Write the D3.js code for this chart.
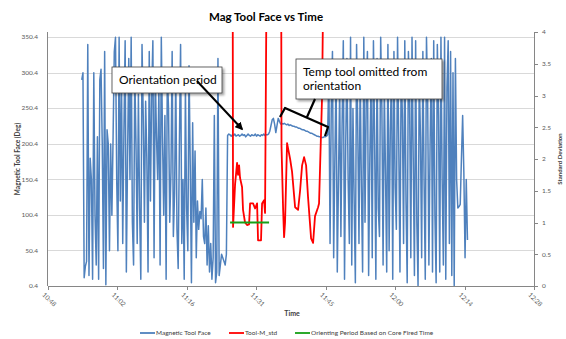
<!DOCTYPE html>
<html>
<head>
<meta charset="utf-8">
<script src="https://cdn.jsdelivr.net/npm/d3@7/dist/d3.min.js"></script>
<style>
  body { margin: 0; background: #fff; }
  svg { display: block; font-family: Lato, "Liberation Sans", sans-serif; }
  .grid line { stroke: #d9d9d9; stroke-width: 1; }
  .tick-label { font-size: 6.5px; fill: #595959; }
  .axis-title { font-size: 6.5px; font-weight: bold; fill: #404040; }
  .legend text { font-size: 6.5px; fill: #404040; }
  .note { font-size: 12px; fill: #000; }
</style>
</head>
<body>
<div id="chart"></div>
<script>
// x axis ticks (every 0.01 day)
const xTickTimes = ["10:48:00", "11:02:24", "11:16:48", "11:31:12", "11:45:36", "12:00:00", "12:14:24", "12:28:48"];
const leftTicks = [0.4, 50.4, 100.4, 150.4, 200.4, 250.4, 300.4, 350.4];
const rightTicks = [0, 0.5, 1, 1.5, 2, 2.5, 3, 3.5, 4];

// Magnetic Tool Face, one reading every 15 s from 10:55:00
const magStart = "10:55:00";
const magStepSeconds = 15;
const magToolFace = [
  // spinning before orientation
  290, 300, 12, 28, 35, 340, 15, 180, 150, 10,
  300, 100, 30, 210, 10, 290, 305, 200, 25, 330,
  2, 220, 200, 50, 200, 100, 210, 330, 350, 150,
  50, 350, 120, 290, 60, 220, 345, 20, 180, 320,
  150, 350, 90, 30, 300, 200, 60, 270, 110, 10,
  340, 240, 90, 260, 180, 20, 330, 120, 270, 345,
  40, 300, 210, 150, 280, 30, 350, 210, 100, 240,
  10, 300, 250, 90, 160, 330, 70, 130, 300, 80,
  25, 200, 340, 60, 150, 10, 280, 110, 50, 310,
  170, 5, 230, 90, 190, 40, 120, 80, 105, 95,
  150, 70, 60, 110, 30, 85, 20, 60, 10, 40,
  240, 5, 20, 320, 15, 30, 45, 40, 35, 30,
  45,
  // orientation
  212, 214, 213, 211, 213, 212, 214, 211, 212, 213,
  211, 212, 214, 212, 213, 210, 212, 214, 212, 211,
  213, 212, 212, 214, 211, 213, 212, 211, 213, 212,
  214, 212, 213, 213,
  214, 218, 226, 234, 236, 228, 216, 226, 236, 232, 228,
  229, 228, 229, 228, 227, 228, 226, 227, 226, 225,
  225, 224, 224, 223, 222, 222, 221, 220, 220, 219,
  218, 218, 217, 216, 215, 215, 214, 213, 212, 211,
  211, 210, 210, 209, 209, 210, 210, 211, 213,
  // spinning after orientation
  300, 60, 250, 330, 40, 180, 300, 20, 150, 280,
  70, 230, 345, 10, 200, 320, 150, 60, 350, 30,
  250, 120, 5, 340, 220, 60, 300, 140, 20, 350,
  90, 260, 330, 15, 180, 290, 40, 345, 200, 10,
  320, 110, 70, 350, 250, 30, 280, 160, 20, 340,
  50, 220, 300, 10, 330, 140, 80, 350, 200, 20,
  310, 240, 60, 345, 120, 5, 330, 260, 40, 350,
  180, 15, 345, 90, 1, 300, 210, 40, 330, 150,
  10, 350, 260, 30, 200, 320, 20, 345, 100, 5,
  340, 240, 20, 350, 150, 30, 350, 10, 280, 345,
  60, 330, 15, 300, 1, 320, 150, 110, 112, 115,
  180, 240, 160, 40, 150, 65
];

// Tool-M_std (right axis)
const toolStdTimes = [
  "11:26:17", "11:26:23", "11:26:48", "11:27:13", "11:27:25", "11:27:38", "11:27:50", "11:28:15",
  "11:28:27", "11:28:52", "11:29:17", "11:29:42", "11:29:55", "11:30:32", "11:30:57", "11:31:22",
  "11:31:34", "11:32:11", "11:32:24", "11:32:49", "11:33:01", "11:33:26",
  "11:36:20", "11:36:26", "11:36:46", "11:36:58", "11:37:10", "11:37:35", "11:38:13", "11:38:37",
  "11:39:15", "11:39:52", "11:40:17", "11:40:42", "11:41:07", "11:41:32", "11:41:56", "11:42:34",
  "11:42:59", "11:43:23", "11:44:01", "11:44:13", "11:44:51", "11:45:16"
];
const toolStdValues = [
  6, 0.93, 1.6, 1.94, 1.75, 1.9, 1.7, 1.56,
  1.2, 1.0, 0.96, 0.97, 1.3, 1.3, 1.22, 1.3,
  0.72, 0.72, 1.3, 1.35, 1.15, 6,
  6, 2.19, 1.2, 0.77, 1.0, 2.25, 2.0, 1.8,
  1.24, 1.2, 1.5, 1.9, 2.03, 1.9, 1.4, 0.75,
  0.68, 1.1, 1.24, 1.3, 3.0, 6
];

// Orienting period based on core fired time (right axis)
const orientTimes = ["11:25:46", "11:33:51"];
const orientValues = [1, 1];

const width = 566, height = 339;
const plot = { left: 48, right: 534, top: 32, bottom: 286 };

const parseTime = d3.timeParse("%H:%M:%S");

const x = d3.scaleTime()
  .domain([parseTime("10:48:00"), parseTime("12:28:48")])
  .range([plot.left, plot.right]);
const yLeft = d3.scaleLinear().domain([0.4, 357.4]).range([plot.bottom, plot.top]);
const yRight = d3.scaleLinear().domain([0, 4]).range([plot.bottom, plot.top]);

const magData = magToolFace.map((v, i) => ({
  t: d3.timeSecond.offset(parseTime(magStart), i * magStepSeconds), v: v
}));
const stdData = toolStdTimes.map((t, i) => ({ t: parseTime(t), v: toolStdValues[i] }));
const orientData = orientTimes.map((t, i) => ({ t: parseTime(t), v: orientValues[i] }));

const svg = d3.select("#chart").append("svg")
  .attr("width", width)
  .attr("height", height);

const defs = svg.append("defs");
defs.append("clipPath").attr("id", "plot-clip")
  .append("rect")
  .attr("x", plot.left).attr("y", plot.top)
  .attr("width", plot.right - plot.left).attr("height", plot.bottom - plot.top);
defs.append("marker")
  .attr("id", "arrow")
  .attr("viewBox", "0 0 10 10")
  .attr("refX", 8).attr("refY", 5)
  .attr("markerWidth", 4).attr("markerHeight", 4)
  .attr("orient", "auto")
  .append("path").attr("d", "M0,0 L10,5 L0,10 z").attr("fill", "#000");
const shadow = defs.append("filter").attr("id", "shadow")
  .attr("x", "-10%").attr("y", "-20%").attr("width", "130%").attr("height", "160%");
shadow.append("feDropShadow")
  .attr("dx", 2).attr("dy", 2).attr("stdDeviation", 1.2)
  .attr("flood-color", "#000").attr("flood-opacity", 0.35);

// title
svg.append("text")
  .attr("x", 266).attr("y", 21)
  .attr("text-anchor", "middle")
  .style("font-size", "11.5px").style("font-weight", "bold").style("fill", "#000")
  .text("Mag Tool Face vs Time");

// gridlines
svg.append("g").attr("class", "grid")
  .selectAll("line").data(leftTicks).enter().append("line")
  .attr("x1", plot.left).attr("x2", plot.right)
  .attr("y1", d => Math.round(yLeft(d)) + 0.5).attr("y2", d => Math.round(yLeft(d)) + 0.5);

// left axis labels
svg.append("g").selectAll("text").data(leftTicks).enter().append("text")
  .attr("class", "tick-label")
  .attr("x", 38).attr("y", d => yLeft(d) + 2.3)
  .attr("text-anchor", "end")
  .text(d => d.toFixed(1));

// right axis
svg.append("line")
  .attr("x1", plot.right + 0.5).attr("x2", plot.right + 0.5)
  .attr("y1", plot.top).attr("y2", plot.bottom)
  .style("stroke", "#868686");
svg.append("g").selectAll("line").data(rightTicks).enter().append("line")
  .attr("x1", plot.right).attr("x2", plot.right + 4)
  .attr("y1", d => Math.round(yRight(d)) + 0.5).attr("y2", d => Math.round(yRight(d)) + 0.5)
  .style("stroke", "#868686");
svg.append("g").selectAll("text").data(rightTicks).enter().append("text")
  .attr("class", "tick-label")
  .attr("x", 542).attr("y", d => yRight(d) + 2.3)
  .text(d => d);

// left + bottom axis lines
svg.append("line")
  .attr("x1", plot.left - 0.5).attr("x2", plot.left - 0.5)
  .attr("y1", plot.top).attr("y2", plot.bottom)
  .style("stroke", "#868686");
svg.append("line")
  .attr("x1", plot.left).attr("x2", plot.right)
  .attr("y1", plot.bottom + 0.5).attr("y2", plot.bottom + 0.5)
  .style("stroke", "#868686");
svg.append("g").selectAll("line").data(xTickTimes).enter().append("line")
  .attr("x1", d => Math.round(x(parseTime(d))) + 0.5).attr("x2", d => Math.round(x(parseTime(d))) + 0.5)
  .attr("y1", plot.bottom).attr("y2", plot.bottom + 4)
  .style("stroke", "#868686");
svg.append("g").selectAll("text").data(xTickTimes).enter().append("text")
  .attr("class", "tick-label")
  .attr("transform", d => `translate(${x(parseTime(d)) - 3},${plot.bottom + 6}) rotate(45)`)
  .attr("dy", "0.7em")
  .text(d => d3.timeFormat("%H:%M")(parseTime(d)));

// axis titles
svg.append("text").attr("class", "axis-title")
  .attr("transform", "translate(20,159) rotate(-90)")
  .attr("text-anchor", "middle")
  .text("Magnetic Tool Face (Deg)");
svg.append("text").attr("class", "axis-title")
  .attr("transform", "translate(562,159) rotate(-90)")
  .attr("text-anchor", "middle")
  .style("font-size", "6px")
  .text("Standard Deviation");
svg.append("text").attr("class", "axis-title")
  .attr("x", 292).attr("y", 316)
  .attr("text-anchor", "middle")
  .style("font-size", "7px")
  .text("Time");

// series
const lineLeft = d3.line().x(d => x(d.t)).y(d => yLeft(d.v));
const lineRight = d3.line().x(d => x(d.t)).y(d => yRight(d.v));
const series = svg.append("g").attr("clip-path", "url(#plot-clip)");

series.append("path").datum(magData)
  .attr("d", lineLeft)
  .style("fill", "none").style("stroke", "#4f81bd")
  .style("stroke-width", 1.5).style("stroke-linejoin", "round");
series.append("path").datum(stdData)
  .attr("d", lineRight)
  .style("fill", "none").style("stroke", "#ff0000")
  .style("stroke-width", 1.8).style("stroke-linejoin", "round");
series.append("path").datum(orientData)
  .attr("d", lineRight)
  .style("fill", "none").style("stroke", "#16a016")
  .style("stroke-width", 1.8);

// annotations
const note1 = svg.append("g");
note1.append("rect")
  .attr("x", 112).attr("y", 67).attr("width", 110).attr("height", 26)
  .style("fill", "#fff").style("stroke", "#404040").style("stroke-width", 0.8)
  .attr("filter", "url(#shadow)");
note1.append("text").attr("class", "note")
  .attr("x", 119).attr("y", 84)
  .text("Orientation period");
svg.append("line")
  .attr("x1", 197).attr("y1", 81).attr("x2", 242).attr("y2", 129)
  .style("stroke", "#000").style("stroke-width", 2)
  .attr("marker-end", "url(#arrow)");

const note2 = svg.append("g");
note2.append("rect")
  .attr("x", 296).attr("y", 59).attr("width", 146).attr("height", 40)
  .style("fill", "#fff").style("stroke", "#404040").style("stroke-width", 0.8)
  .attr("filter", "url(#shadow)");
note2.append("text").attr("class", "note")
  .attr("x", 303).attr("y", 76)
  .text("Temp tool omitted from");
note2.append("text").attr("class", "note")
  .attr("x", 303).attr("y", 90)
  .text("orientation");
svg.append("path")
  .attr("d", "M280,117 L285,108 L328,127 L325,136 M307,117 L315,99")
  .style("fill", "none").style("stroke", "#000").style("stroke-width", 2.2)
  .style("stroke-linejoin", "round");

// legend
const legendItems = [
  { name: "Magnetic Tool Face", color: "#4f81bd", x: 140 },
  { name: "Tool-M_std", color: "#ff0000", x: 229 },
  { name: "Orienting Period Based on Core Fired Time", color: "#16a016", x: 295 }
];
const legend = svg.append("g").attr("class", "legend");
legendItems.forEach(item => {
  legend.append("line")
    .attr("x1", item.x).attr("x2", item.x + 15)
    .attr("y1", 333).attr("y2", 333)
    .style("stroke", item.color).style("stroke-width", 1.8);
  legend.append("text")
    .attr("x", item.x + 16).attr("y", 335.3)
    .text(item.name);
});
</script>
</body>
</html>
